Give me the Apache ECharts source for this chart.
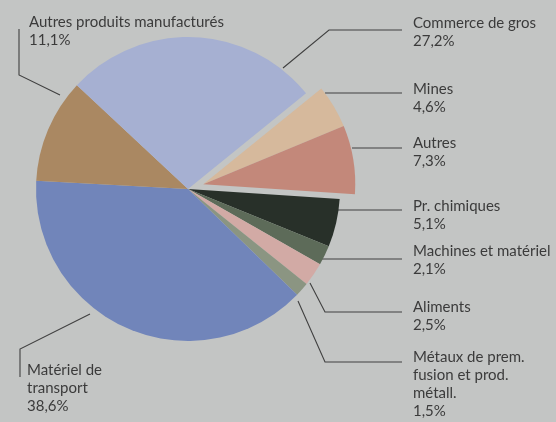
<!DOCTYPE html>
<html>
<head>
<meta charset="utf-8">
<script src="https://cdn.jsdelivr.net/npm/echarts@6/dist/echarts.min.js"></script>
<style>
html,body{margin:0;padding:0;background:#c3c5c4;}
#chart{width:556px;height:422px;}
</style>
</head>
<body>
<div id="chart"></div>
<script>
// Data (clockwise from just below the right horizontal)
const categories = [
  'Pr. chimiques',
  'Machines et matériel',
  'Aliments',
  'Métaux de prem.\nfusion et prod.\nmétall.',
  'Matériel de\ntransport',
  'Autres produits manufacturés',
  'Commerce de gros',
  'Mines',
  'Autres'
];
const shares = [5.1, 2.1, 2.5, 1.5, 38.6, 11.1, 27.2, 4.6, 7.3];
const colors = ['#283029', '#5d6b59', '#d2aaa5', '#8b9582', '#7185ba', '#aa8862', '#a6b0d2', '#d6b99c', '#c3887a'];
const explodedGroup = ['Mines', 'Autres'];

// Label layout (positions of text and leader lines), by category index
const labelPos = [
  {x: 413, y: 197, line: [[338, 210], [402, 210]]},
  {x: 413, y: 242, line: [[318, 259], [402, 259]]},
  {x: 413, y: 298, line: [[310, 283], [325, 312], [402, 312]]},
  {x: 413, y: 348, line: [[298, 301], [325, 362], [402, 362]]},
  {x: 27, y: 361, line: [[90, 314], [20, 349], [20, 377]]},
  {x: 29, y: 13, line: [[60, 95], [19, 75], [19, 29]]},
  {x: 413, y: 14, line: [[283, 68], [329, 30], [402, 30]]},
  {x: 413, y: 80, line: [[325, 93], [402, 93]]},
  {x: 413, y: 134, line: [[352, 148], [402, 148]]}
];

const fmt = p => p.name + '\n' + String(p.value).replace('.', ',') + '%';
const textStyle = {
  color: '#3b3b3b', fontFamily: 'Lato', fontSize: 15, lineHeight: 18
};

function buildData(visibleFn) {
  return categories.map((c, i) => {
    const vis = visibleFn(c);
    return {
      name: c,
      value: shares[i],
      itemStyle: {color: vis ? colors[i] : 'rgba(0,0,0,0)'},
      label: {show: vis},
      labelLine: {show: vis}
    };
  });
}

function layoutFn(params) {
  const cfg = labelPos[params.dataIndex];
  if (!cfg) return {};
  return {
    x: cfg.x, y: cfg.y, align: 'left', verticalAlign: 'top',
    labelLinePoints: cfg.line
  };
}

const R = 152;
const C = [188, 189];
const midAngle = 17.5 * Math.PI / 180;
const off = 16;
const C2 = [C[0] + off * Math.cos(midAngle), C[1] - off * Math.sin(midAngle)];

const common = {
  type: 'pie',
  radius: [0, R],
  startAngle: -3.8,
  clockwise: true,
  silent: true,
  animation: false,
  avoidLabelOverlap: false,
  label: Object.assign({show: true, formatter: fmt, position: 'outside'}, textStyle),
  labelLine: {show: true, lineStyle: {color: '#404040', width: 1.1}, length: 10, length2: 10},
  itemStyle: {borderWidth: 0},
  emphasis: {disabled: true},
  labelLayout: layoutFn
};

const chart = echarts.init(document.getElementById('chart'), null, {renderer: 'canvas'});
chart.setOption({
  backgroundColor: '#c3c5c4',
  series: [
    Object.assign({}, common, {
      center: C,
      data: buildData(c => explodedGroup.indexOf(c) < 0)
    }),
    Object.assign({}, common, {
      center: C2,
      data: buildData(c => explodedGroup.indexOf(c) >= 0)
    })
  ]
});
</script>
</body>
</html>
